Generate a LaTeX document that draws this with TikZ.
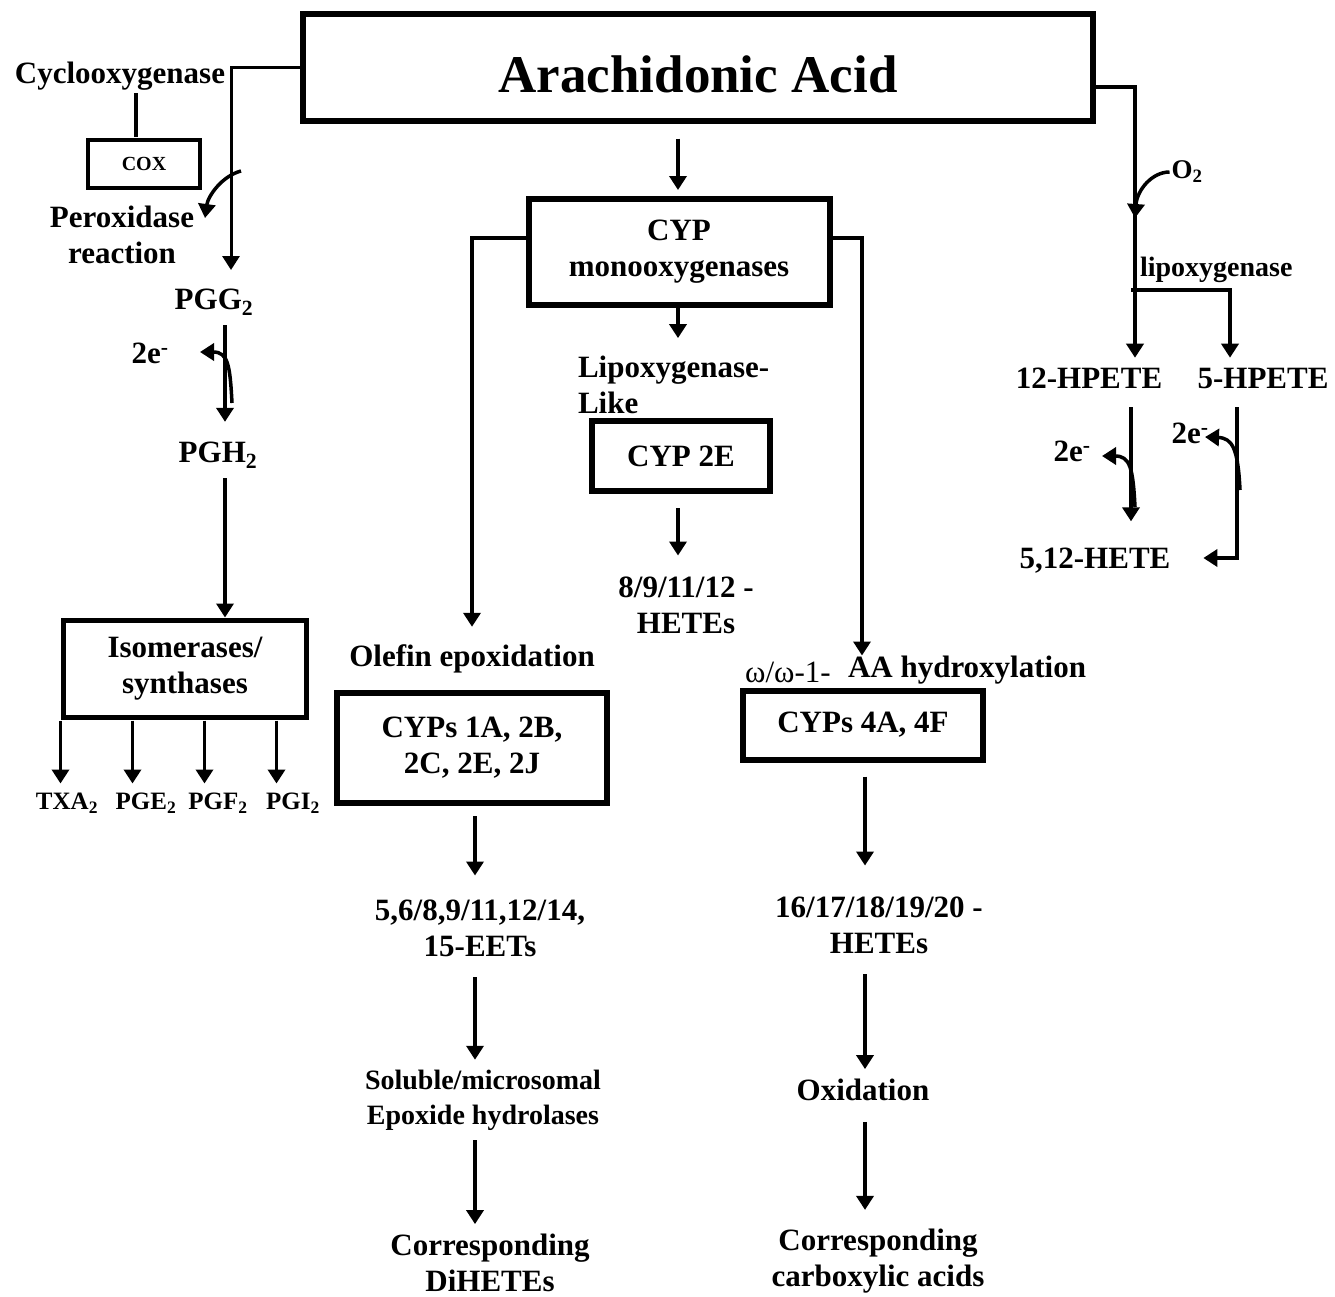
\documentclass[tikz,border=0pt]{standalone}
\usepackage{fontspec}
\setmainfont{Liberation Serif}
\usetikzlibrary{arrows.meta,positioning,calc}

\tikzset{
  lbl/.style={font=\fontsize{31}{36}\selectfont\bfseries, align=center, inner sep=0pt, outer sep=10pt},
  lblsm/.style={lbl, font=\fontsize{28}{35}\selectfont\bfseries},
  prod/.style={lbl, font=\fontsize{25}{28}\selectfont\bfseries},
  enzbox/.style={lbl, draw, line width=6pt, outer sep=3pt},
  flow/.style={line width=3.5pt, -{Triangle[length=14pt,width=17pt]}},
  link/.style={line width=3.5pt},
}

\begin{document}
\begin{tikzpicture}[x=1pt,y=-1pt]
    \useasboundingbox (0,0) rectangle (1335,1296);

    % Substrate
    \node[enzbox, minimum width=790, minimum height=107, text height=50pt, text depth=0pt,
          font=\fontsize{53}{60}\selectfont\bfseries] (aa) at (698,67) {Arachidonic Acid};

    % Cyclooxygenase pathway
    \node[lbl] (cyclo) at (120,76) {Cyclooxygenase};
    \node[enzbox, line width=4pt, minimum width=112, minimum height=48,
          font=\fontsize{20}{24}\selectfont\bfseries] (cox) at (144,164) {COX};
    \node[lbl] (perox) at (122,235) {Peroxidase\\reaction};
    \node[lbl] (pgg) at (214,302) {PGG\textsubscript{2}};
    \node[lbl] (e1) at (150,353) {2e\textsuperscript{-}};
    \node[lbl] (pgh) at (218,455) {PGH\textsubscript{2}};
    \node[enzbox, line width=4.5pt, minimum width=243, minimum height=97] (iso) at (185,669) {Isomerases/\\synthases};
    \node[prod] (txa) at (67,803) {TXA\textsubscript{2}};
    \node[prod] (pge) at (146,803) {PGE\textsubscript{2}};
    \node[prod] (pgf) at (218,803) {PGF\textsubscript{2}};
    \node[prod] (pgi) at (293,803) {PGI\textsubscript{2}};

    \coordinate (colA) at (225,0);
    \coordinate (pggtip) at (231,270);
    \coordinate (pxs) at (241,171);
    \coordinate (pxe) at (205,218);
    \coordinate (e1s) at (232,403);
    \coordinate (e1t) at (200,352);

    \draw[flow, line width=3pt] (aa.west) -| (pggtip);
    \draw[link] ([xshift=-8pt]cox.north) -- ([xshift=16pt, yshift=7pt]cyclo.south);
    \draw[flow] (pxs) .. controls (222,176) and (208,196) .. (pxe);
    \draw[flow, shorten >=10pt] (colA |- pgg.south) -- (colA |- pgh.north);
    \draw[flow] (e1s) .. controls (230,365) and (228,352) .. (e1t);
    \draw[flow] (colA |- pgh.south) -- (colA |- iso.north);
    \foreach \i/\p in {0/txa,1/pge,2/pgf,3/pgi}
        \draw[flow] ([xshift=\i*72pt]iso.south west) -- ++(0,63);

    % CYP monooxygenase pathway
    \node[enzbox, minimum width=301, minimum height=106] (cyp) at (679,252) {CYP\\monooxygenases};
    \node[lbl, anchor=west, align=left] (lipolike) at (568,385) {Lipoxygenase-\\Like};
    \node[enzbox, minimum width=178, minimum height=70] (cyp2e) at (681,456) {CYP 2E};
    \node[lbl] (hete1) at (686,605) {8/9/11/12 -\\HETEs};

    \node[lbl] (olefin) at (472,659) {Olefin epoxidation};
    \node[enzbox, minimum width=270, minimum height=110] (cyp1a) at (472,748) {CYPs 1A, 2B,\\2C, 2E, 2J};
    \node[lbl] (eets) at (480,928) {5,6/8,9/11,12/14,\\15-EETs};
    \node[lblsm] (sol) at (483,1100) {Soluble/microsomal\\Epoxide hydrolases};
    \node[lbl] (dihete) at (490,1263) {Corresponding\\DiHETEs};

    \node[lbl, font=\fontsize{31}{36}\selectfont] (omega) at (788,672) {ω/ω-1-};
    \node[lbl] (aahyd) at (967,670) {AA hydroxylation};
    \node[enzbox, minimum width=240, minimum height=69] (cyp4a) at (863,725) {CYPs 4A, 4F};
    \node[lbl] (hete2) at (879,925) {16/17/18/19/20 -\\HETEs};
    \node[lbl] (oxid) at (863,1090) {Oxidation};
    \node[lbl] (carbox) at (878,1261) {Corresponding\\carboxylic acids};

    \coordinate (colB) at (472,0);
    \coordinate (colB2) at (475,0);
    \coordinate (colC) at (678,0);
    \coordinate (colD) at (862,0);
    \coordinate (colD2) at (865,0);

    \draw[flow, shorten <=15pt, shorten >=6pt] (colC |- aa.south) -- (colC |- cyp.north);
    \draw[flow, shorten >=8pt] (colC |- cyp.south) -- (colC |- lipolike.north);
    \draw[flow, shorten <=14pt, shorten >=11pt] (colC |- cyp2e.south) -- (colC |- hete1.north);

    \draw[flow, shorten >=8pt] ([yshift=14pt]cyp.west) -| (colB |- olefin.north);
    \draw[flow, shorten <=10pt, shorten >=14pt] (colB2 |- cyp1a.south) -- (colB2 |- eets.north);
    \draw[flow, shorten <=11pt] (colB2 |- eets.south) -- (colB2 |- sol.north);
    \draw[flow] (colB2 |- sol.south) -- (colB2 |- dihete.north);

    \draw[flow, shorten >=32pt] ([yshift=14pt]cyp.east) -| (colD |- cyp4a.north);
    \draw[flow, shorten <=14pt, shorten >=21pt] (colD2 |- cyp4a.south) -- (colD2 |- hete2.north);
    \draw[flow, shorten <=11pt] (colD2 |- hete2.south) -- (colD2 |- oxid.north);
    \draw[flow, shorten <=11pt, shorten >=9pt] (colD2 |- oxid.south) -- (colD2 |- carbox.north);

    % Lipoxygenase pathway
    \node[lbl, font=\fontsize{27}{32}\selectfont\bfseries, outer sep=2pt] (o2) at (1187,172) {O\textsubscript{2}};
    \node[lblsm, anchor=west] (lipox) at (1130,270) {lipoxygenase};
    \node[lbl] (hpete12) at (1089,378) {12-HPETE};
    \node[lbl] (hpete5) at (1263,378) {5-HPETE};
    \node[lbl] (e2) at (1072,451) {2e\textsuperscript{-}};
    \node[lbl] (e3) at (1190,433) {2e\textsuperscript{-}};
    \node[lbl] (hete512) at (1095,561) {5,12-HETE};

    \coordinate (colE) at (1135,0);
    \coordinate (colE2) at (1131,0);
    \coordinate (colF) at (1230,0);
    \coordinate (colF2) at (1237,0);
    \coordinate (o2t) at (1135,218);
    \coordinate (fork) at (1131,290);
    \coordinate (e2s) at (1135,507);
    \coordinate (e2t) at (1102,456);
    \coordinate (e3s) at (1240,490);
    \coordinate (e3t) at (1205,437);

    \draw[flow] ([yshift=-20pt]aa.east) -| (colE |- hpete12.north);
    \draw[flow] (o2.west) .. controls (1152,172) and (1137,190) .. (o2t);
    \draw[flow] (fork) -| (colF |- hpete5.north);
    \draw[flow, shorten <=9pt, shorten >=17pt] (colE2 |- hpete12.south) -- (colE2 |- hete512.north);
    \draw[flow] (e2s) .. controls (1133,468) and (1130,456) .. (e2t);
    \draw[flow, shorten <=9pt, shorten >=23pt] (colF2 |- hpete5.south) |- ([yshift=3pt]hete512.east);
    \draw[flow] (e3s) .. controls (1238,450) and (1233,438) .. (e3t);
\end{tikzpicture}
\end{document}
